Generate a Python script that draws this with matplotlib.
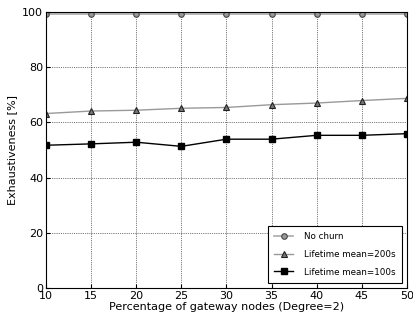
import numpy as np
import matplotlib
matplotlib.use('Agg')
import matplotlib.pyplot as plt

# percentage of gateway nodes
gateway_pct = [10, 15, 20, 25, 30, 35, 40, 45, 50]

# exhaustiveness [%]
no_churn = [99.3, 99.3, 99.3, 99.3, 99.3, 99.3, 99.3, 99.3, 99.3]
lifetime_200 = [63.2, 64.1, 64.4, 65.1, 65.4, 66.4, 67.0, 67.9, 68.7]
lifetime_100 = [51.7, 52.2, 52.8, 51.3, 53.9, 53.9, 55.3, 55.3, 55.9]

plt.rcParams['font.family'] = 'DejaVu Sans'
plt.rcParams['font.size'] = 8

fig = plt.figure(figsize=(4.14, 3.16), dpi=100)
ax = fig.add_axes([0.111, 0.089, 0.872, 0.873])

ax.plot(gateway_pct, no_churn, color='#aaaaaa', lw=1.2, marker='o', ms=4,
        mfc='#999999', mec='#444444', mew=0.8, label='No churn')
ax.plot(gateway_pct, lifetime_200, color='#999999', lw=1.0, marker='^', ms=4.5,
        mfc='#777777', mec='#222222', mew=0.8, label='Lifetime mean=200s')
ax.plot(gateway_pct, lifetime_100, color='black', lw=1.0, marker='s', ms=4.5,
        mfc='black', mec='black', label='Lifetime mean=100s')

ax.set_xlim(10, 50)
ax.set_ylim(0, 100)
ax.set_xticks(np.arange(10, 51, 5))
ax.set_yticks(np.arange(0, 101, 20))
ax.grid(True, color='black', linestyle=':', linewidth=0.5)
ax.tick_params(direction='in', length=3, pad=2)

ax.set_xlabel('Percentage of gateway nodes (Degree=2)', labelpad=1)
ax.set_ylabel('Exhaustiveness [%]', labelpad=4)

leg = ax.legend(loc='lower right', fancybox=False, edgecolor='black',
                framealpha=1, fontsize=6.3, handlelength=2.2, borderpad=0.7,
                labelspacing=1.0, handletextpad=1.2, borderaxespad=0.6)
leg.get_frame().set_linewidth(0.8)

fig.savefig('out.png', dpi=100)
